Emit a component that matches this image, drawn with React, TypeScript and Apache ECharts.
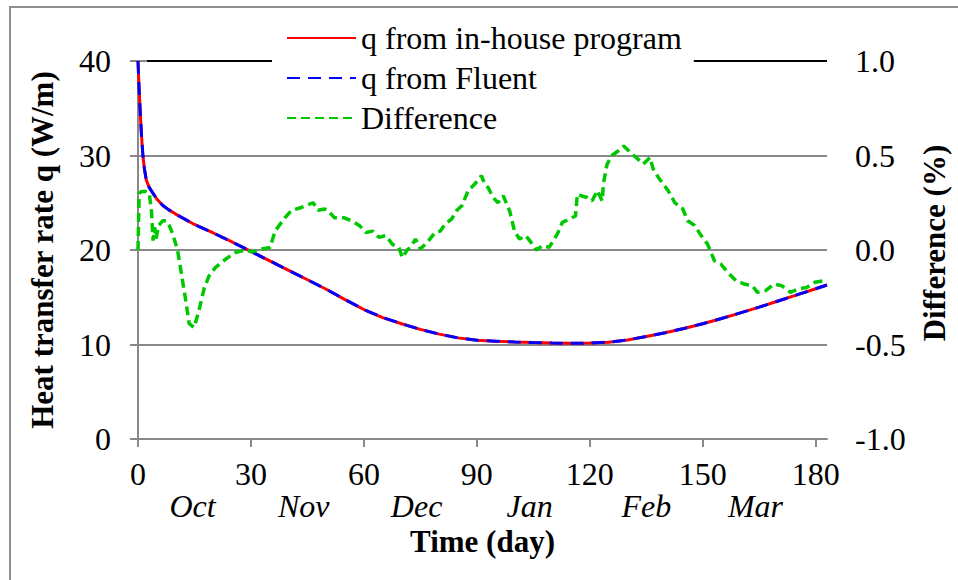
import React, { useEffect, useRef } from 'react';
import * as echarts from 'echarts';

// ---- data ----
const qDays = [0, 0.3, 0.6, 0.9, 1.3, 1.7, 2.2, 3, 4, 5, 6.6, 8, 10, 15, 20, 25, 30, 35, 40, 45, 50, 55, 60, 65, 70, 75, 80, 85, 90, 95, 100, 105, 110, 115, 120, 125, 130, 135, 140, 145, 150, 155, 160, 165, 170, 175, 180, 183];
const qInHouse = [40, 37, 34.6, 32.3, 30, 28.6, 27.4, 26.6, 26, 25.4, 24.7, 24.3, 23.8, 22.7, 21.8, 20.85, 19.85, 18.85, 17.85, 16.85, 15.85, 14.75, 13.7, 12.85, 12.2, 11.6, 11.1, 10.7, 10.45, 10.35, 10.27, 10.2, 10.15, 10.12, 10.15, 10.25, 10.48, 10.85, 11.25, 11.7, 12.2, 12.75, 13.35, 13.95, 14.6, 15.25, 15.9, 16.3];
const qFluent = [40, 37, 34.6, 32.3, 30, 28.6, 27.4, 26.6, 26, 25.4, 24.7, 24.3, 23.8, 22.7, 21.8, 20.85, 19.85, 18.85, 17.85, 16.85, 15.85, 14.75, 13.7, 12.85, 12.2, 11.6, 11.1, 10.7, 10.45, 10.35, 10.27, 10.2, 10.15, 10.12, 10.15, 10.25, 10.48, 10.85, 11.25, 11.7, 12.2, 12.75, 13.35, 13.95, 14.6, 15.25, 15.9, 16.3];

const diffDays = [0, 0.3, 1, 2, 3, 3.6, 4, 4.4, 4.8, 5.5, 6.6, 7.5, 8.3, 9.2, 10.5, 11.4, 12.7, 13.6, 14.9, 16.2, 17.6, 18.9, 20.6, 23.3, 25.9, 28.5, 30.3, 32.9, 35.1, 36.4, 39, 40.8, 43.4, 46.5, 47.8, 49.6, 50.4, 52.2, 54.8, 56.6, 58.8, 60.5, 62.3, 64, 65.8, 67.6, 69.3, 70.2, 71.5, 72.4, 73.7, 75, 76.8, 78.9, 80.3, 81.6, 83.3, 84.7, 86, 87.7, 89.5, 91.2, 92.1, 93, 94.3, 95.6, 97, 98.7, 100, 101.3, 103, 104.8, 105.7, 107.5, 109.2, 111.4, 112.7, 116.2, 116.7, 117.7, 119.3, 120.6, 122, 123.3, 123.6, 124.6, 125.9, 127.6, 129, 131.2, 133.3, 134.2, 136, 136.8, 138.2, 140.8, 142.6, 144.7, 146, 147.8, 149.6, 151.3, 153.1, 154.8, 156.6, 158.8, 161, 163.2, 164.5, 166.7, 168.9, 171, 173.3, 175.4, 177.6, 179.8, 182.5];
const diffValues = [0, 0.3, 0.31, 0.31, 0.3, 0.2, 0.05, 0.12, 0.06, 0.13, 0.155, 0.155, 0.13, 0.085, 0, -0.11, -0.27, -0.39, -0.41, -0.32, -0.2, -0.136, -0.092, -0.048, -0.013, 0, -0.01, 0.005, 0.014, 0.1, 0.17, 0.21, 0.225, 0.25, 0.21, 0.217, 0.21, 0.17, 0.17, 0.155, 0.13, 0.093, 0.1, 0.067, 0.076, 0.03, 0.014, -0.04, 0, 0.014, 0.058, 0.005, 0.04, 0.093, 0.1, 0.138, 0.164, 0.21, 0.234, 0.314, 0.35, 0.393, 0.35, 0.33, 0.278, 0.25, 0.287, 0.208, 0.1, 0.058, 0.076, 0.03, 0, 0.023, 0.014, 0.085, 0.146, 0.18, 0.296, 0.287, 0.278, 0.26, 0.314, 0.26, 0.35, 0.455, 0.5, 0.525, 0.55, 0.508, 0.472, 0.455, 0.49, 0.43, 0.384, 0.314, 0.25, 0.217, 0.155, 0.13, 0.076, 0.03, -0.057, -0.074, -0.118, -0.162, -0.18, -0.189, -0.224, -0.215, -0.18, -0.189, -0.224, -0.206, -0.198, -0.171, -0.162];

const xTicks = [0, 30, 60, 90, 120, 150, 180];
const monthDays = [14.5, 44, 74, 104, 135, 164];
const monthLabels = ['Oct', 'Nov', 'Dec', 'Jan', 'Feb', 'Mar'];

const seriesNames = ['q from in-house program', 'q from Fluent', 'Difference'];
const xName = 'Time (day)';
const yLeftName = 'Heat transfer rate q (W/m)';
const yRightName = 'Difference (%)';

const SERIF = '"Liberation Serif", "Times New Roman", serif';
const GREY = '#898989';
const FS = 32;

export default function App() {
  const ref = useRef<HTMLDivElement>(null);

  useEffect(() => {
    if (!ref.current) return;
    const chart = echarts.init(ref.current, undefined, { renderer: 'svg' });
    const pair = (xs: number[], ys: number[]) => xs.map((x, i) => [x, ys[i]]);

    chart.setOption({
      animation: false,
      backgroundColor: '#ffffff',
      grid: { left: 138, right: 125, top: 61, bottom: 141, containLabel: false },
      legend: {
        orient: 'vertical',
        left: 272,
        top: 17,
        padding: [5, 12, 8, 14],
        backgroundColor: '#ffffff',
        itemWidth: 69,
        itemHeight: 14,
        itemGap: 8,
        itemStyle: { opacity: 0 },
        textStyle: { fontFamily: SERIF, fontSize: FS, color: '#000' },
        data: seriesNames,
      },
      xAxis: [
        {
          type: 'value',
          min: 0,
          max: 183,
          position: 'bottom',
          name: xName,
          nameLocation: 'middle',
          nameGap: 87,
          nameTextStyle: { fontFamily: SERIF, fontSize: 31, fontWeight: 'bold', color: '#000' },
          axisLine: { show: true, lineStyle: { color: GREY, width: 2 } },
          axisTick: { show: true, inside: false, length: 8, customValues: xTicks, lineStyle: { color: GREY, width: 2 } },
          axisLabel: { customValues: xTicks, margin: 19, fontFamily: SERIF, fontSize: FS, color: '#000' },
          splitLine: { show: false },
        },
        {
          type: 'value',
          min: 0,
          max: 183,
          position: 'bottom',
          axisLine: { show: false },
          axisTick: { show: false },
          splitLine: { show: false },
          axisLabel: {
            customValues: monthDays,
            margin: 51,
            fontFamily: SERIF,
            fontSize: FS,
            fontStyle: 'italic',
            color: '#000',
            formatter: (v: number) => {
              const i = monthDays.indexOf(v);
              return i >= 0 ? monthLabels[i] : '';
            },
          },
        },
      ],
      yAxis: [
        {
          type: 'value',
          min: 0,
          max: 40,
          interval: 10,
          position: 'left',
          name: yLeftName,
          nameLocation: 'middle',
          nameRotate: 90,
          nameGap: 80,
          nameTextStyle: { fontFamily: SERIF, fontSize: 31, fontWeight: 'bold', color: '#000' },
          axisLine: { show: true, lineStyle: { color: GREY, width: 2 } },
          axisTick: { show: true, inside: false, length: 8, lineStyle: { color: GREY, width: 2 } },
          axisLabel: { margin: 27, fontFamily: SERIF, fontSize: FS, color: '#000' },
          splitLine: { show: true, lineStyle: { color: [GREY, GREY, GREY, GREY, '#000'], width: 2 } },
        },
        {
          type: 'value',
          min: -1,
          max: 1,
          interval: 0.5,
          position: 'right',
          name: yRightName,
          nameLocation: 'middle',
          nameRotate: 90,
          nameGap: 92,
          nameTextStyle: { fontFamily: SERIF, fontSize: 31, fontWeight: 'bold', color: '#000', padding: [0, 0, 0, 14] },
          axisLine: { show: true, lineStyle: { color: GREY, width: 2 } },
          axisTick: { show: true, inside: false, length: 9, lineStyle: { color: GREY, width: 2 } },
          axisLabel: {
            margin: 28,
            align: 'left',
            fontFamily: SERIF,
            fontSize: FS,
            color: '#000',
            formatter: (v: number) => v.toFixed(1),
          },
          splitLine: { show: false },
        },
      ],
      graphic: [
        {
          type: 'rect',
          shape: { x: 10, y: 7, width: 1200, height: 1000 },
          style: { fill: 'none', stroke: '#8e8e8e', lineWidth: 2 },
          silent: true,
          z: -10,
        },
      ],
      series: [
        {
          name: seriesNames[0],
          type: 'line',
          xAxisIndex: 0,
          yAxisIndex: 0,
          data: pair(qDays, qInHouse),
          symbol: 'none',
          lineStyle: { color: '#ff0000', width: 3, type: 'solid' },
          itemStyle: { color: '#ff0000' },
          z: 2,
        },
        {
          name: seriesNames[1],
          type: 'line',
          xAxisIndex: 0,
          yAxisIndex: 0,
          data: pair(qDays, qFluent),
          symbol: 'none',
          lineStyle: { color: '#0000ff', width: 3, type: [13, 8] },
          itemStyle: { color: '#0000ff' },
          z: 3,
        },
        {
          name: seriesNames[2],
          type: 'line',
          xAxisIndex: 0,
          yAxisIndex: 1,
          data: pair(diffDays, diffValues),
          symbol: 'none',
          lineStyle: { color: '#00c800', width: 3.5, type: [9, 5] },
          itemStyle: { color: '#00c800' },
          z: 4,
        },
      ],
    });

    return () => chart.dispose();
  }, []);

  return (
    <div
      ref={ref}
      style={{ position: 'fixed', left: 0, top: 0, width: 958, height: 580, background: '#fff' }}
    />
  );
}
